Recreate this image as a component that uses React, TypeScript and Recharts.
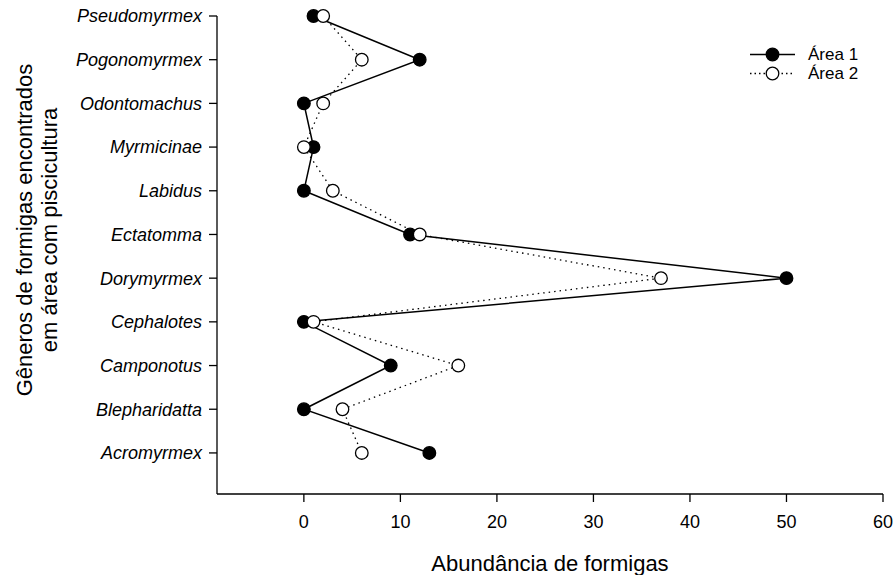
import { LineChart, Line, XAxis, YAxis, Legend, Label } from "recharts"

// genera, top to bottom as in the figure
const genera = [
  "Pseudomyrmex",
  "Pogonomyrmex",
  "Odontomachus",
  "Myrmicinae",
  "Labidus",
  "Ectatomma",
  "Dorymyrmex",
  "Cephalotes",
  "Camponotus",
  "Blepharidatta",
  "Acromyrmex",
]
const area1 = [1, 12, 0, 1, 0, 11, 50, 0, 9, 0, 13]
const area2 = [2, 6, 2, 0, 3, 12, 37, 1, 16, 4, 6]
const xTicks = [0, 10, 20, 30, 40, 50, 60]
const seriesNames = ["Área 1", "Área 2"]

// vertical layout: y scale runs top -> bottom, so position 1 is the top row
const data = genera.map((name, i) => ({
  name,
  pos: i + 1,
  area1: area1[i],
  area2: area2[i],
}))
const yTicks = data.map((d) => d.pos)

const font = "'Liberation Sans', Arial, sans-serif"

const renderLegend = () => (
  <div style={{ fontFamily: font, fontSize: 17, color: "#000", lineHeight: "19px" }}>
    {seriesNames.map((n, i) => (
      <div key={n} style={{ display: "flex", alignItems: "center" }}>
        <svg width={52} height={19}>
          <line
            x1={3}
            x2={48}
            y1={9.5}
            y2={9.5}
            stroke="#000"
            strokeWidth={i === 0 ? 1.5 : 1.3}
            strokeDasharray={i === 0 ? undefined : "1.5 3"}
          />
          <circle cx={25.5} cy={9.5} r={6.3} fill={i === 0 ? "#000" : "#fff"} stroke="#000" strokeWidth={1.3} />
        </svg>
        <span style={{ marginLeft: 9 }}>{n}</span>
      </div>
    ))}
  </div>
)

const yTitle = () => (
  <text
    transform="rotate(-90)"
    textAnchor="middle"
    style={{ fontFamily: font, fontSize: 22, fill: "#000" }}
  >
    <tspan x={-230} y={32}>Gêneros de formigas encontrados</tspan>
    <tspan x={-230} y={57}>em área com piscicultura</tspan>
  </text>
)

export default function App() {
  return (
    <div style={{ position: "absolute", left: 0, top: 0, background: "#fff" }}>
      <LineChart
        width={895}
        height={575}
        data={data}
        layout="vertical"
        margin={{ top: 16, right: 12, left: 0, bottom: 0 }}
      >
        <XAxis
          type="number"
          domain={[-9, 60]}
          ticks={xTicks}
          height={81}
          tickSize={8}
          tickMargin={13}
          axisLine={{ stroke: "#000", strokeWidth: 1.3 }}
          tickLine={{ stroke: "#000", strokeWidth: 1.3 }}
          tick={{ fill: "#000", fontSize: 18, fontFamily: font }}
        >
          <Label
            value="Abundância de formigas"
            position="insideBottom"
            offset={4}
            style={{ fontFamily: font, fontSize: 22, fill: "#000" }}
          />
        </XAxis>
        <YAxis
          type="number"
          dataKey="pos"
          domain={[1, 11.94]}
          ticks={yTicks}
          interval={0}
          width={217}
          tickSize={8}
          tickMargin={7}
          tickFormatter={(v: number) => genera[v - 1]}
          axisLine={{ stroke: "#000", strokeWidth: 1.3 }}
          tickLine={{ stroke: "#000", strokeWidth: 1.3 }}
          tick={{ fill: "#000", fontSize: 18, fontFamily: font, fontStyle: "italic" }}
        >
          <Label content={yTitle} />
        </YAxis>
        <Legend
          verticalAlign="middle"
          align="center"
          layout="vertical"
          content={renderLegend}
          wrapperStyle={{ left: 747, top: 45, width: 140 }}
        />
        <Line
          dataKey="area1"
          name={seriesNames[0]}
          stroke="#000"
          strokeWidth={1.5}
          dot={{ r: 6.3, fill: "#000", stroke: "#000", strokeWidth: 1.3, clipDot: false }}
          isAnimationActive={false}
        />
        <Line
          dataKey="area2"
          name={seriesNames[1]}
          stroke="#000"
          strokeWidth={1.3}
          strokeDasharray="1.5 4"
          dot={{ r: 6.3, fill: "#fff", stroke: "#000", strokeWidth: 1.3, strokeDasharray: "none", clipDot: false }}
          isAnimationActive={false}
        />
      </LineChart>
    </div>
  )
}
